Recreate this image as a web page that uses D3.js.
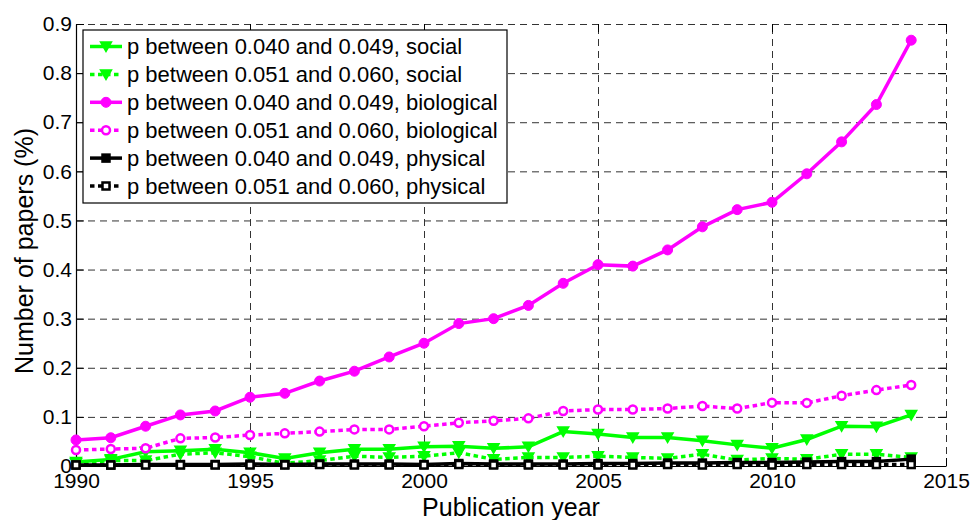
<!DOCTYPE html>
<html>
<head>
<meta charset="utf-8">
<style>
  body { margin: 0; background: #fff; font-family: "Liberation Sans", Arial, sans-serif; }
  .grid line { stroke: #333; stroke-width: 1; stroke-dasharray: 7,5; }
  .grid path { display: none; }
</style>
<title>Number of papers</title>
</head>
<body>
<script src="https://cdn.jsdelivr.net/npm/d3@7"></script>
<script>

// publication years
var years = [1990, 1991, 1992, 1993, 1994, 1995, 1996, 1997, 1998, 1999, 2000, 2001, 2002,
             2003, 2004, 2005, 2006, 2007, 2008, 2009, 2010, 2011, 2012, 2013, 2014];

// % of papers
var socialLow  = [0.008, 0.0135, 0.029, 0.031, 0.034, 0.027, 0.0155, 0.027, 0.034, 0.034, 0.039, 0.040, 0.036,
                  0.039, 0.070, 0.065, 0.058, 0.058, 0.0515, 0.043, 0.036, 0.054, 0.081, 0.080, 0.104];
var socialHigh = [0.0055, 0.011, 0.011, 0.024, 0.027, 0.019, 0.0055, 0.011, 0.020, 0.0175, 0.020, 0.027, 0.0135,
                  0.0175, 0.0175, 0.020, 0.0175, 0.0155, 0.024, 0.012, 0.0155, 0.0135, 0.024, 0.024, 0.0175];
var bioLow     = [0.053, 0.0575, 0.081, 0.104, 0.112, 0.140, 0.148, 0.173, 0.193, 0.222, 0.250, 0.290, 0.300,
                  0.327, 0.372, 0.410, 0.407, 0.440, 0.487, 0.522, 0.537, 0.595, 0.660, 0.736, 0.867];
var bioHigh    = [0.0325, 0.0345, 0.036, 0.0563, 0.058, 0.063, 0.0665, 0.070, 0.0745, 0.0745, 0.081, 0.088, 0.092,
                  0.097, 0.112, 0.115, 0.115, 0.117, 0.122, 0.117, 0.129, 0.1285, 0.143, 0.1545, 0.165];
var physLow    = [0.002, 0.002, 0.003, 0.003, 0.003, 0.004, 0.003, 0.004, 0.004, 0.004, 0.003, 0.005, 0.004,
                  0.004, 0.004, 0.005, 0.005, 0.006, 0.006, 0.007, 0.007, 0.008, 0.009, 0.009, 0.014];
var physHigh   = [0.002, 0.002, 0.002, 0.002, 0.002, 0.002, 0.002, 0.003, 0.002, 0.002, 0.002, 0.003, 0.002,
                  0.002, 0.002, 0.002, 0.002, 0.003, 0.002, 0.003, 0.002, 0.003, 0.003, 0.003, 0.003];

var xTicks = [1990, 1995, 2000, 2005, 2010, 2015];
var yTicks = [0, 0.1, 0.2, 0.3, 0.4, 0.5, 0.6, 0.7, 0.8, 0.9];

var labels = ["p between 0.040 and 0.049, social",
              "p between 0.051 and 0.060, social",
              "p between 0.040 and 0.049, biological",
              "p between 0.051 and 0.060, biological",
              "p between 0.040 and 0.049, physical",
              "p between 0.051 and 0.060, physical"];

var series = [
  {label: labels[0], values: socialLow,  color: "#00ff00", dotted: false, marker: "tri",    filled: true},
  {label: labels[1], values: socialHigh, color: "#00ff00", dotted: true,  marker: "tri",    filled: true},
  {label: labels[2], values: bioLow,     color: "#ff00ff", dotted: false, marker: "circle", filled: true},
  {label: labels[3], values: bioHigh,    color: "#ff00ff", dotted: true,  marker: "circle", filled: false},
  {label: labels[4], values: physLow,    color: "#000000", dotted: false, marker: "square", filled: true},
  {label: labels[5], values: physHigh,   color: "#000000", dotted: true,  marker: "square", filled: false}
];

var width = 973, height = 520;
var margin = {top: 24, right: 27, bottom: 54, left: 76};
var w = width - margin.left - margin.right,
    h = height - margin.top - margin.bottom;

var svg = d3.select("body").append("svg")
    .attr("width", width)
    .attr("height", height);

var x = d3.scaleLinear().domain([1990, 2015]).range([margin.left, margin.left + w]);
var y = d3.scaleLinear().domain([0, 0.9]).range([margin.top + h, margin.top]);

// dashed grid
svg.append("g").attr("class", "grid")
    .attr("transform", "translate(0," + (margin.top + h) + ")")
    .call(d3.axisBottom(x).tickValues(xTicks.slice(1)).tickSize(-h).tickFormat(""));
svg.append("g").attr("class", "grid")
    .attr("transform", "translate(" + margin.left + ",0)")
    .call(d3.axisLeft(y).tickValues(yTicks.slice(1)).tickSize(-w).tickFormat(""));

// axes, ticks pointing inward
var xAxis = svg.append("g")
    .attr("transform", "translate(0," + (margin.top + h) + ")")
    .call(d3.axisBottom(x).tickValues(xTicks).tickSizeInner(-8).tickSizeOuter(0).tickPadding(7).tickFormat(d3.format("d")));
var yAxis = svg.append("g")
    .attr("transform", "translate(" + margin.left + ",0)")
    .call(d3.axisLeft(y).tickValues(yTicks).tickSizeInner(-8).tickSizeOuter(0).tickPadding(4)
      .tickFormat(function(d) { return d === 0 ? "0" : d3.format(".1f")(d); }));
var topAxis = svg.append("g")
    .attr("transform", "translate(0," + margin.top + ")")
    .call(d3.axisTop(x).tickValues(xTicks).tickSizeInner(-8).tickSizeOuter(0).tickFormat(""));
var rightAxis = svg.append("g")
    .attr("transform", "translate(" + (margin.left + w) + ",0)")
    .call(d3.axisRight(y).tickValues(yTicks).tickSizeInner(-8).tickSizeOuter(0).tickFormat(""));

topAxis.select(".domain").remove();
rightAxis.select(".domain").remove();

[xAxis, yAxis].forEach(function(a) {
  a.selectAll("text").style("font-size", "21px").style("font-family", "Liberation Sans, Arial, sans-serif").attr("fill", "#000");
  a.select(".domain").attr("stroke", "#000").attr("stroke-width", 1.2);
});
[xAxis, yAxis, topAxis, rightAxis].forEach(function(a) {
  a.selectAll(".tick line").attr("stroke", "#000");
});

// axis titles
svg.append("text")
    .attr("x", margin.left + w / 2)
    .attr("y", 516)
    .attr("text-anchor", "middle")
    .style("font-size", "25px")
    .text("Publication year");

svg.append("text")
    .attr("transform", "translate(33," + (margin.top + h / 2 + 6) + ") rotate(-90)")
    .attr("text-anchor", "middle")
    .style("font-size", "25px")
    .text("Number of papers (%)");

// markers
function drawMarker(g, s, cx, cy) {
  var fill = s.filled ? s.color : "#fff";
  if (s.marker === "circle") {
    g.append("circle").attr("cx", cx).attr("cy", cy)
      .attr("r", s.filled ? 5 : 4)
      .attr("fill", fill).attr("stroke", s.color).attr("stroke-width", s.filled ? 1 : 2.5);
  } else if (s.marker === "tri") {
    g.append("path")
      .attr("d", "M" + (cx - 5.5) + "," + (cy - 4.5) + "L" + (cx + 5.5) + "," + (cy - 4.5) + "L" + cx + "," + (cy + 5) + "Z")
      .attr("fill", fill).attr("stroke", s.color).attr("stroke-width", 1.5);
  } else {
    g.append("rect").attr("x", cx - 3.5).attr("y", cy - 3.5)
      .attr("width", 7).attr("height", 7)
      .attr("fill", fill).attr("stroke", s.color).attr("stroke-width", 2.5);
  }
}

var line = d3.line()
    .x(function(d, i) { return x(years[i]); })
    .y(function(d) { return y(d); });

series.forEach(function(s) {
  var g = svg.append("g");
  g.append("path")
    .datum(s.values)
    .attr("d", line)
    .attr("fill", "none")
    .attr("stroke", s.color)
    .attr("stroke-width", 3.5)
    .attr("stroke-dasharray", s.dotted ? "4.5,3.5" : null);
  s.values.forEach(function(v, i) {
    drawMarker(g, s, x(years[i]), y(v));
  });
});

// legend
var legend = svg.append("g");
legend.append("rect")
    .attr("x", 83).attr("y", 30)
    .attr("width", 424).attr("height", 173)
    .attr("fill", "#fff").attr("stroke", "#000").attr("stroke-width", 1.2);

series.forEach(function(s, i) {
  var cy = 46.5 + i * 27.9;
  legend.append("line")
    .attr("x1", 90).attr("x2", 122).attr("y1", cy).attr("y2", cy)
    .attr("stroke", s.color).attr("stroke-width", 3.5)
    .attr("stroke-dasharray", s.dotted ? "4.5,3.5" : null);
  drawMarker(legend, s, 106, cy);
  legend.append("text")
    .attr("x", 127).attr("y", cy)
    .attr("dy", "0.35em")
    .style("font-size", "22px")
    .text(s.label);
});

</script>
</body>
</html>
